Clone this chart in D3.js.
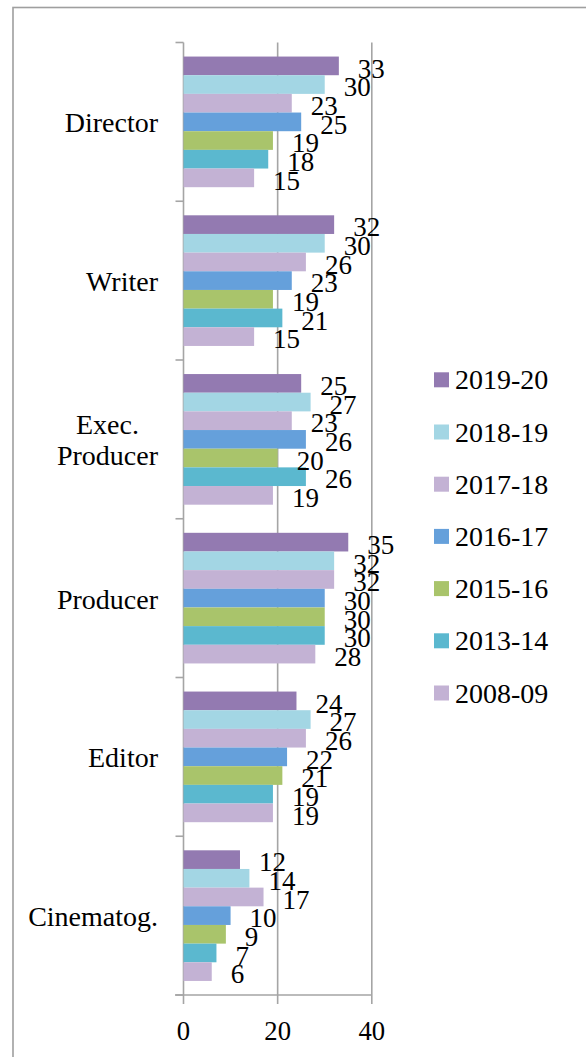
<!DOCTYPE html>
<html>
<head>
<meta charset="utf-8">
<script src="https://cdn.jsdelivr.net/npm/d3@7"></script>
<style>
  html, body { margin: 0; padding: 0; background: #fff; }
  svg { display: block; }
</style>
</head>
<body>
<script>
// ---- data ----
const categories = ["Director", "Writer", "Exec. Producer", "Producer", "Editor", "Cinematog."];
const seriesNames = ["2019-20", "2018-19", "2017-18", "2016-17", "2015-16", "2013-14", "2008-09"];
const seriesColors = ["#937AB1", "#A3D6E4", "#C3B2D4", "#65A0DB", "#A9C46B", "#5BB8CF", "#C3B2D4"];
const v2019_20 = [33, 32, 25, 35, 24, 12];
const v2018_19 = [30, 30, 27, 32, 27, 14];
const v2017_18 = [23, 26, 23, 32, 26, 17];
const v2016_17 = [25, 23, 26, 30, 22, 10];
const v2015_16 = [19, 19, 20, 30, 21, 9];
const v2013_14 = [18, 21, 26, 30, 19, 7];
const v2008_09 = [15, 15, 19, 28, 19, 6];
const seriesValues = [v2019_20, v2018_19, v2017_18, v2016_17, v2015_16, v2013_14, v2008_09];
const xTicks = [0, 20, 40];

const FONT = "'Liberation Serif', 'Times New Roman', 'DejaVu Serif', serif";

// ---- layout ----
const W = 586, H = 1057;
const svg = d3.select("body").append("svg").attr("width", W).attr("height", H);

// fit a font size so that a sample string gets a target width
function fitSize(sample, targetW) {
  const t = svg.append("text").style("font-family", FONT).style("font-size", "100px").text(sample);
  const w = t.node().getComputedTextLength();
  t.remove();
  return w > 0 ? 100 * targetW / w : 27;
}
const catSize = fitSize("Director", 93.3);
const valSize = fitSize("33", 27);
const legSize = fitSize("2019-20", 93.3);
const tickSize = fitSize("20", 26.7);

// outer chart border (right/bottom edges run off the picture)
svg.append("rect")
  .attr("x", 13).attr("y", 7.5).attr("width", 600).attr("height", 1080)
  .attr("fill", "none").attr("stroke", "#9f9f9f").attr("stroke-width", 1.6);

const plotTop = 42.5, plotBottom = 995;
const x = d3.scaleLinear().domain([0, 40]).range([183.5, 371.8]);
const y = d3.scaleBand().domain(categories).range([plotTop, plotBottom]).padding(0);
const ys = d3.scaleBand().domain(seriesNames).range([0, y.bandwidth()])
  .paddingInner(0).paddingOuter(0.753);

const gridColor = "#a5a5a5";

svg.append("g").selectAll("line").data(xTicks).join("line")
  .attr("x1", d => x(d)).attr("x2", d => x(d))
  .attr("y1", plotTop).attr("y2", plotBottom + 9)
  .attr("stroke", gridColor).attr("stroke-width", 1.6);

svg.append("line")
  .attr("x1", x(0) - 8.5).attr("x2", x(40)).attr("y1", plotBottom).attr("y2", plotBottom)
  .attr("stroke", gridColor).attr("stroke-width", 1.6);

const boundaries = categories.map(c => y(c)).concat([plotBottom]);
svg.append("g").selectAll("line").data(boundaries).join("line")
  .attr("x1", x(0) - 8).attr("x2", x(0))
  .attr("y1", d => d).attr("y2", d => d)
  .attr("stroke", gridColor).attr("stroke-width", 1.6);

svg.append("g").selectAll("text").data(xTicks).join("text")
  .attr("x", d => x(d)).attr("y", 1040)
  .attr("text-anchor", "middle")
  .style("font-family", FONT).style("font-size", tickSize + "px")
  .text(d => d);

const barData = [];
categories.forEach((c, ci) => {
  seriesNames.forEach((s, si) => {
    barData.push({ cat: c, ser: s, si, value: seriesValues[si][ci] });
  });
});

svg.append("g").selectAll("rect").data(barData).join("rect")
  .attr("x", x(0))
  .attr("y", d => y(d.cat) + ys(d.ser))
  .attr("width", d => x(d.value) - x(0))
  .attr("height", ys.bandwidth())
  .attr("fill", d => seriesColors[d.si]);

svg.append("g").selectAll("text").data(barData).join("text")
  .attr("x", d => x(d.value) + 19)
  .attr("y", d => y(d.cat) + ys(d.ser) + ys.bandwidth() + 2.4)
  .style("font-family", FONT).style("font-size", valSize + "px")
  .text(d => d.value);

const labelRight = 158;
categories.forEach(c => {
  const words = c.startsWith("Exec.") ? c.split(" ") : [c];
  const cy = y(c) + y.bandwidth() / 2;
  const lineH = 31;
  const t = svg.append("text").style("font-family", FONT).style("font-size", catSize + "px");
  const baseY = cy + 10.5 - (words.length - 1) * lineH / 2;
  const tspans = words.map((w, i) => t.append("tspan").attr("y", baseY + i * lineH).text(w));
  if (words.length === 1) {
    t.attr("text-anchor", "end");
    tspans[0].attr("x", labelRight);
  } else {
    let maxW = 0;
    tspans.forEach(ts => { maxW = Math.max(maxW, ts.node().getComputedTextLength()); });
    t.attr("text-anchor", "middle");
    tspans.forEach(ts => ts.attr("x", labelRight - maxW / 2));
  }
});

const legend = svg.append("g");
seriesNames.forEach((s, i) => {
  const ly = 372.3 + i * 52.2;
  legend.append("rect").attr("x", 434).attr("y", ly).attr("width", 15).attr("height", 15)
    .attr("fill", seriesColors[i]);
  legend.append("text").attr("x", 455).attr("y", ly + 17)
    .style("font-family", FONT).style("font-size", legSize + "px").text(s);
});
</script>
</body>
</html>
